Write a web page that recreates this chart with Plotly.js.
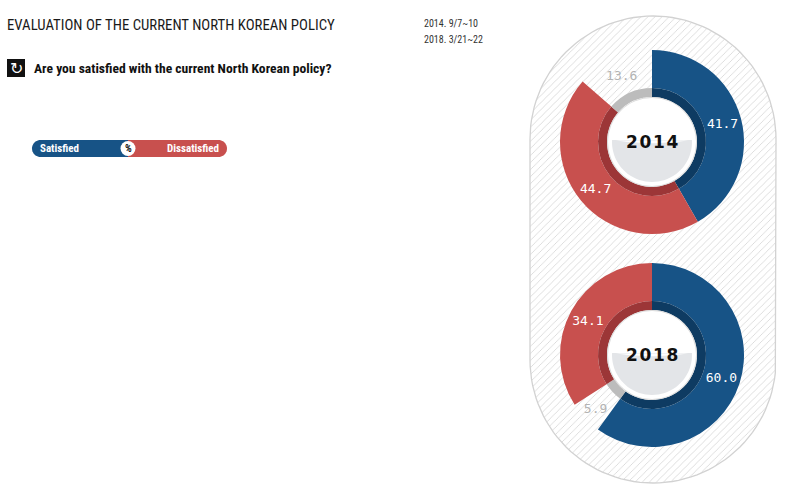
<!DOCTYPE html>
<html><head><meta charset="utf-8">
<script src="https://cdn.plot.ly/plotly-3.0.1.min.js"></script>
<style>html,body{margin:0;padding:0;background:#fff}#chart{width:792px;height:496px}</style>
</head><body><div id="chart"></div>
<script>
// ---- data ----
const chartTitle = 'EVALUATION OF THE CURRENT NORTH KOREAN POLICY';
const question = 'Are you satisfied with the current North Korean policy?';
const surveyDates = ['2014. 9/7~10', '2018. 3/21~22'];
const years = ['2014', '2018'];
const categories2014 = ['Satisfied', 'Dissatisfied', "Don't know"];
const values2014 = [41.7, 44.7, 13.6];
const categories2018 = ['Satisfied', "Don't know", 'Dissatisfied'];
const values2018 = [60.0, 5.9, 34.1];
const legendLabels = ['Satisfied', '%', 'Dissatisfied'];

// ---- styling ----
const W = 792, H = 496;
const NARROW = "'Liberation Sans Narrow', 'Roboto Condensed', 'DejaVu Sans Condensed', sans-serif";
const MONO = "'DejaVu Sans Mono', monospace";
const outerColor = {'Satisfied': '#175386', 'Dissatisfied': '#c8504e', "Don't know": 'rgba(0,0,0,0)'};
const innerColor = {'Satisfied': '#0e3b62', 'Dissatisfied': '#9c3637', "Don't know": '#bcbcbc'};
const textColor = {'Satisfied': '#ffffff', 'Dissatisfied': '#ffffff', "Don't know": '#b3b3b3'};
const centers = [[652, 142], [652, 355]];
const R_OUT = 92, R_MID = 54, R_IN = 45, R_DISC = 44;

function dom(cx, cy, r) {
  return {x: [(cx - r) / W, (cx + r) / W], y: [(H - cy - r) / H, (H - cy + r) / H]};
}

const datasets = [[categories2014, values2014], [categories2018, values2018]];
const traces = [];

// hatched stadium background
(function () {
  const cx = 653, top = 139, bot = 360, r = 123;
  const xs = [], ys = [];
  for (let i = 0; i <= 60; i++) { const a = Math.PI - Math.PI * i / 60; xs.push(cx + r * Math.cos(a)); ys.push(top - r * Math.sin(a)); }
  for (let i = 0; i <= 60; i++) { const a = -Math.PI * i / 60; xs.push(cx + r * Math.cos(a)); ys.push(bot - r * Math.sin(a)); }
  xs.push(xs[0]); ys.push(ys[0]);
  traces.push({type: 'scatter', mode: 'lines', x: xs, y: ys, fill: 'toself', fillcolor: '#ffffff',
    fillpattern: {shape: '/', fgcolor: '#d6d6d6', bgcolor: '#ffffff', size: 5, solidity: 0.16},
    line: {color: '#d2d2d2', width: 1.3}, hoverinfo: 'skip', showlegend: false});
})();

datasets.forEach(([cats, vals], i) => {
  const [cx, cy] = centers[i];
  traces.push({
    type: 'pie', labels: cats, values: vals, sort: false, direction: 'clockwise', rotation: 0,
    hole: R_MID / R_OUT, domain: dom(cx, cy, R_OUT),
    marker: {colors: cats.map(c => outerColor[c]), line: {width: 0}},
    text: vals.map(v => v.toFixed(1)), textinfo: 'text', textposition: 'inside',
    insidetextorientation: 'horizontal',
    textfont: {family: MONO, size: 13, color: cats.map(c => textColor[c])},
    hoverinfo: 'label+value', showlegend: false
  });
  traces.push({
    type: 'pie', labels: cats, values: vals, sort: false, direction: 'clockwise', rotation: 0,
    hole: R_IN / R_MID, domain: dom(cx, cy, R_MID),
    marker: {colors: cats.map(c => innerColor[c]), line: {width: 0}},
    textinfo: 'none', hoverinfo: 'skip', showlegend: false
  });
});

// ---- shapes ----
const shapes = [];
function polyPath(pts) { return 'M' + pts.map(p => p[0].toFixed(2) + ',' + p[1].toFixed(2)).join('L') + 'Z'; }

centers.forEach(([cx, cy]) => {
  shapes.push({type: 'circle', xref: 'x', yref: 'y', x0: cx - R_DISC - 1, x1: cx + R_DISC + 1, y0: cy - R_DISC - 1, y1: cy + R_DISC + 1,
    fillcolor: '#dcdcdc', line: {width: 0}, layer: 'above'});
  shapes.push({type: 'circle', xref: 'x', yref: 'y', x0: cx - R_DISC, x1: cx + R_DISC, y0: cy - R_DISC, y1: cy + R_DISC,
    fillcolor: '#ffffff', line: {width: 0}, layer: 'above'});
  // light gray lower bowl
  const r = R_DISC - 4, pts = [];
  const a0 = Math.asin(2 / r);
  for (let k = 0; k <= 40; k++) { const a = -a0 + (Math.PI + 2 * a0) * k / 40; pts.push([cx + r * Math.cos(a), cy + r * Math.sin(a)]); }
  for (let k = 1; k < 20; k++) { const t = k / 20; const x = cx + r * Math.cos(a0) - 2 * r * Math.cos(a0) * t; pts.push([x, cy - 2 + 3.2 * Math.sin(Math.PI * t)]); }
  shapes.push({type: 'path', xref: 'x', yref: 'y', path: polyPath(pts), fillcolor: '#e3e5e8', line: {width: 0}, layer: 'above'});
});

// legend pill
(function () {
  const y0 = 140, y1 = 157, rr = (y1 - y0) / 2, xl = 32, xm = 128, xr = 227, ym = (y0 + y1) / 2;
  const left = [[xm, y0]];
  for (let k = 0; k <= 20; k++) { const a = -Math.PI / 2 - Math.PI * k / 20; left.push([xl + rr + rr * Math.cos(a), ym + rr * Math.sin(a)]); }
  left.push([xm, y1]);
  shapes.push({type: 'path', xref: 'x', yref: 'y', path: polyPath(left), fillcolor: '#175386', line: {width: 0}, layer: 'above'});
  const right = [[xm, y0]];
  for (let k = 0; k <= 20; k++) { const a = -Math.PI / 2 + Math.PI * k / 20; right.push([xr - rr + rr * Math.cos(a), ym + rr * Math.sin(a)]); }
  right.push([xm, y1]);
  shapes.push({type: 'path', xref: 'x', yref: 'y', path: polyPath(right), fillcolor: '#c8504e', line: {width: 0}, layer: 'above'});
  shapes.push({type: 'circle', xref: 'x', yref: 'y', x0: xm - 7.5, x1: xm + 7.5, y0: ym - 7.5, y1: ym + 7.5, fillcolor: '#ffffff', line: {width: 0}, layer: 'above'});
})();

// icon box
shapes.push({type: 'rect', xref: 'x', yref: 'y', x0: 7, x1: 25, y0: 59, y1: 77, fillcolor: '#111111', line: {width: 0}, layer: 'above'});

// ---- annotations ----
const annotations = [
  {text: chartTitle, x: 5, y: 25, xanchor: 'left', yanchor: 'middle', font: {family: NARROW, size: 14.8, color: '#1a1a1a'}},
  {text: surveyDates[0], x: 422, y: 23, xanchor: 'left', yanchor: 'middle', font: {family: NARROW, size: 10, color: '#333'}},
  {text: surveyDates[1], x: 422, y: 39, xanchor: 'left', yanchor: 'middle', font: {family: NARROW, size: 10, color: '#333'}},
  {text: '↻', x: 16, y: 68, xanchor: 'center', yanchor: 'middle', font: {family: 'DejaVu Sans', size: 16, color: '#ffffff'}},
  {text: '<b>' + question + '</b>', x: 32, y: 68, xanchor: 'left', yanchor: 'middle', font: {family: NARROW, size: 13.6, color: '#111'}},
  {text: '<b>' + legendLabels[0] + '</b>', x: 38, y: 148.5, xanchor: 'left', yanchor: 'middle', font: {family: NARROW, size: 11, color: '#fff'}},
  {text: '<b>' + legendLabels[1] + '</b>', x: 128, y: 148.5, xanchor: 'center', yanchor: 'middle', font: {family: NARROW, size: 10.5, color: '#111'}},
  {text: '<b>' + legendLabels[2] + '</b>', x: 221, y: 148.5, xanchor: 'right', yanchor: 'middle', font: {family: NARROW, size: 11, color: '#fff'}}
];
years.forEach((yr, i) => {
  annotations.push({text: '<b>' + yr.split('').join('\u200A') + '</b>', x: centers[i][0], y: centers[i][1], xanchor: 'center', yanchor: 'middle',
    font: {family: 'DejaVu Sans', size: 17, color: '#111'}});
});
annotations.forEach(a => { a.xref = 'x'; a.yref = 'y'; a.showarrow = false; });

const layout = {
  width: W, height: H, margin: {l: 0, r: 0, t: 0, b: 0},
  paper_bgcolor: '#ffffff', plot_bgcolor: 'rgba(0,0,0,0)',
  xaxis: {range: [0, W], visible: false, fixedrange: true, domain: [0, 1]},
  yaxis: {range: [H, 0], visible: false, fixedrange: true, domain: [0, 1]},
  showlegend: false, shapes: shapes, annotations: annotations
};
Plotly.newPlot('chart', traces, layout, {displayModeBar: false, staticPlot: true});
</script></body></html>
